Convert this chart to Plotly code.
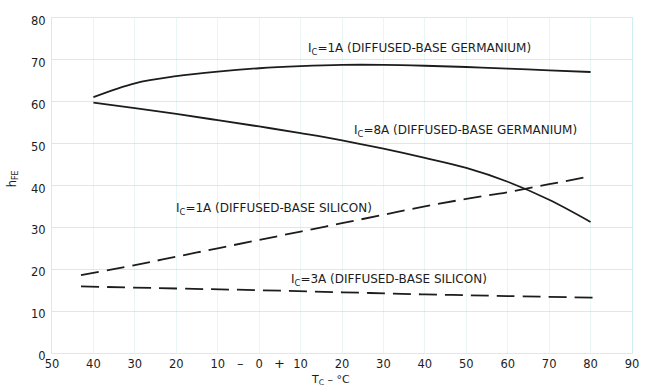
import plotly.graph_objects as go

# Case temperature (deg C) and current gain for each device / collector current
temp_ge_1a = [-40, -30, -20, -10, 0, 10, 20, 30, 40, 50, 60, 70, 80]
hfe_ge_1a = [61.1, 64.4, 66.1, 67.2, 68.0, 68.5, 68.8, 68.8, 68.6, 68.3, 67.9, 67.5, 67.1]

temp_ge_8a = [-40, -30, -20, -10, 0, 10, 20, 30, 40, 50, 60, 70, 80]
hfe_ge_8a = [59.8, 58.5, 57.1, 55.6, 54.1, 52.5, 50.8, 48.8, 46.6, 44.2, 40.9, 36.6, 31.3]

temp_si_1a = [-43, -30, -20, -10, 0, 10, 20, 30, 40, 50, 60, 70, 80]
hfe_si_1a = [18.6, 21.0, 23.0, 25.0, 27.0, 29.0, 31.0, 33.0, 35.0, 36.8, 38.4, 40.3, 42.2]

temp_si_3a = [-43, -20, 0, 20, 40, 60, 82]
hfe_si_3a = [15.9, 15.4, 15.0, 14.5, 14.0, 13.6, 13.2]

x_ticks = [-50, -40, -30, -20, -10, 0, 10, 20, 30, 40, 50, 60, 70, 80, 90]
x_tick_text = ["50", "40", "30", "20", "10", "0", "10", "20", "30", "40", "50", "60", "70", "80", "90"]
y_ticks = [0, 10, 20, 30, 40, 50, 60, 70, 80]

curve_labels = [
    ("I<sub>C</sub>=1A (DIFFUSED-BASE GERMANIUM)", 38.8, 72.5),
    ("I<sub>C</sub>=8A (DIFFUSED-BASE GERMANIUM)", 49.8, 53.0),
    ("I<sub>C</sub>=1A (DIFFUSED-BASE SILICON)", 3.5, 34.3),
    ("I<sub>C</sub>=3A (DIFFUSED-BASE SILICON)", 31.4, 17.4),
]

ink = "#1c1c1c"
grid_h = "rgba(150,220,208,0.45)"
grid_v = "rgba(150,220,208,0.22)"
label_font = dict(family="DejaVu Sans", size=12, color=ink)
tick_font = dict(family="DejaVu Sans", size=11.5, color=ink)

fig = go.Figure()
fig.add_trace(go.Scatter(x=temp_ge_1a, y=hfe_ge_1a, mode="lines",
                         line=dict(color=ink, width=1.8, shape="spline")))
fig.add_trace(go.Scatter(x=temp_ge_8a, y=hfe_ge_8a, mode="lines",
                         line=dict(color=ink, width=1.8, shape="spline")))
fig.add_trace(go.Scatter(x=temp_si_1a, y=hfe_si_1a, mode="lines",
                         line=dict(color=ink, width=1.8, shape="spline", dash="18px,8px")))
fig.add_trace(go.Scatter(x=temp_si_3a, y=hfe_si_3a, mode="lines",
                         line=dict(color=ink, width=1.8, shape="spline", dash="18px,8px")))

for text, x, y in curve_labels:
    fig.add_annotation(x=x, y=y, text=text, showarrow=False, font=label_font)

# sign markers between the negative and positive temperature ticks
for sign, x in (("\u2013", -4.5), ("+", 5)):
    fig.add_annotation(x=x, y=0, yref="y", text=sign, showarrow=False,
                       yshift=-10, font=dict(family="DejaVu Sans", size=13, color=ink))

fig.add_annotation(text="h<sub>FE</sub>", xref="paper", yref="paper", x=-0.068, y=0.52,
                   xanchor="center", yanchor="middle", textangle=-90, showarrow=False,
                   font=dict(family="DejaVu Sans", size=11.5, color=ink))
fig.add_annotation(text="T<sub>C</sub> \u2013 \u00b0C", xref="paper", yref="paper", x=0.48, y=-0.08,
                   yanchor="middle", showarrow=False,
                   font=dict(family="DejaVu Sans", size=11, color=ink))

fig.update_layout(
    width=649, height=386,
    margin=dict(l=52, r=10, t=18, b=33),
    paper_bgcolor="white", plot_bgcolor="white",
    showlegend=False,
)

fig.update_xaxes(range=[-50, 90], tickvals=x_ticks, ticktext=x_tick_text,
                 showgrid=True, gridcolor=grid_v, gridwidth=1, zeroline=False,
                 showline=True, linecolor=grid_h, mirror=True, ticks="",
                 ticklabelstandoff=0, tickfont=tick_font)
fig.update_yaxes(range=[0, 80], tickvals=y_ticks,
                 showgrid=True, gridcolor=grid_h, gridwidth=1, zeroline=False,
                 showline=True, linecolor=grid_h, mirror=True, ticks="",
                 ticklabelshift=3, ticklabelstandoff=3, tickfont=tick_font)

fig.write_html("out.html")
